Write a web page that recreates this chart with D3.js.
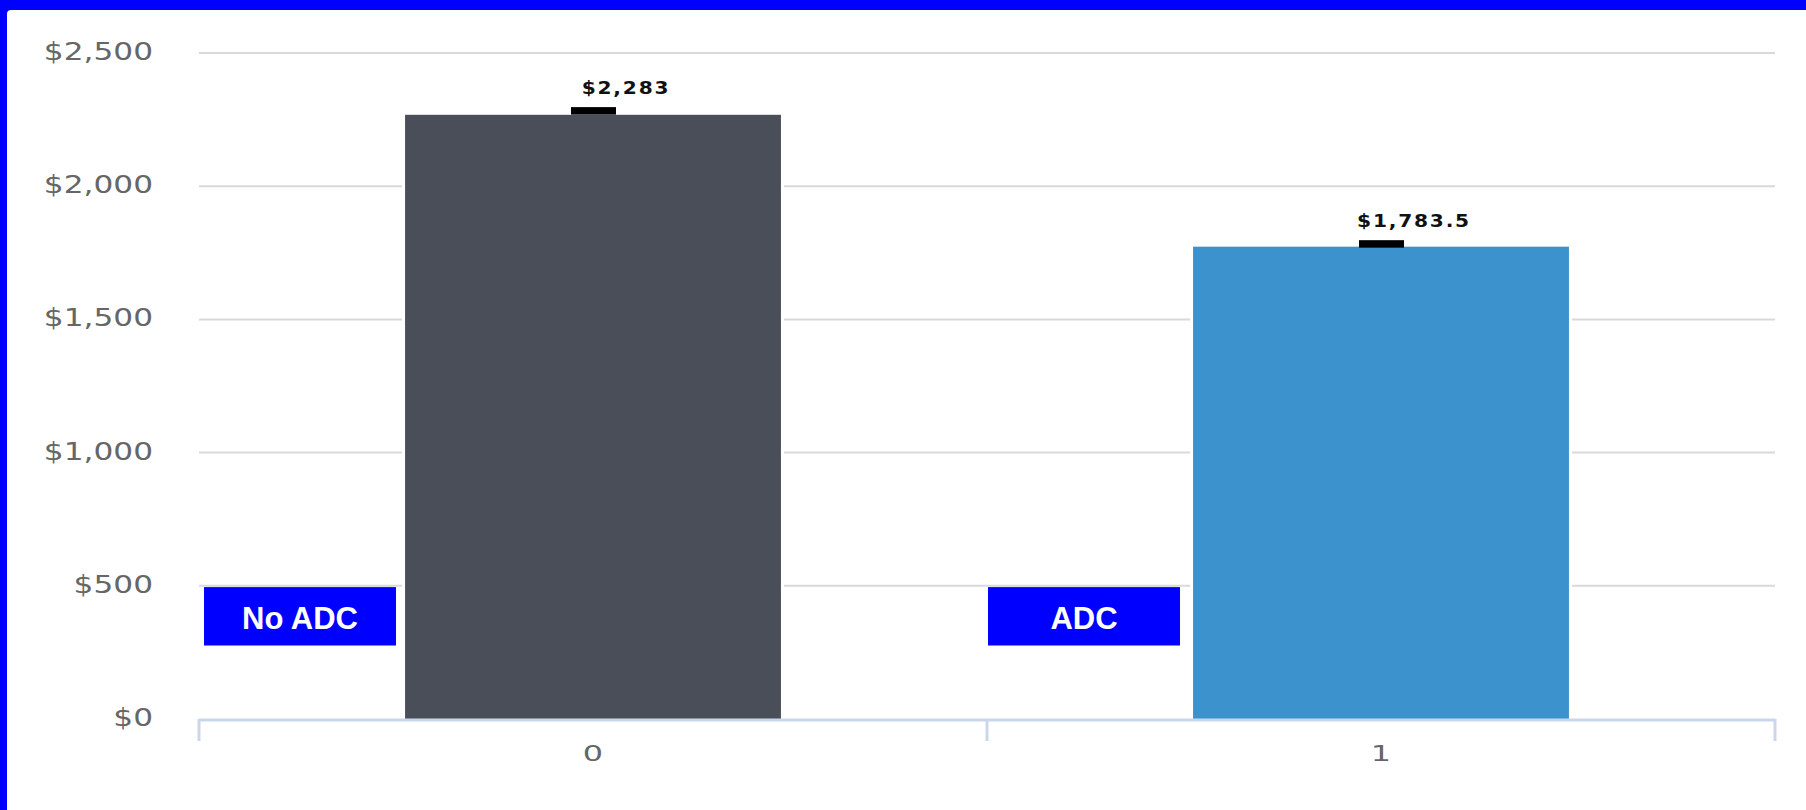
<!DOCTYPE html>
<html>
<head>
<meta charset="utf-8">
<script src="https://cdn.jsdelivr.net/npm/d3@7"></script>
<style>
  html, body { margin: 0; padding: 0; background: #0000ff; }
  svg { display: block; }
</style>
</head>
<body>
<svg id="chart" width="1806" height="810"></svg>
<script>
// ---- data ----
const categories = ["0", "1"];
const groupLabels = ["No ADC", "ADC"];
const barValues = [2268, 1773];          // plotted column heights
const markerValues = [2283, 1783.5];     // black marker / labelled value
const valueLabels = ["$2,283", "$1,783.5"];
const yTicks = [0, 500, 1000, 1500, 2000, 2500];
const yTickLabels = ["$0", "$500", "$1,000", "$1,500", "$2,000", "$2,500"];
const barColors = ["#4a4e59", "#3b92cd"];

// ---- layout ----
const svg = d3.select("#chart");
const W = 1806, H = 810;
const plot = { left: 199, right: 1775, top: 53, bottom: 719 };

// white panel
svg.append("rect").attr("x", 7).attr("y", 10).attr("width", W).attr("height", H)
  .attr("rx", 4).attr("fill", "#ffffff");

const x = d3.scaleBand().domain(categories).range([plot.left, plot.right]).padding(0);
const y = d3.scaleLinear().domain([0, 2500]).range([plot.bottom, plot.top]);

// gridlines
svg.append("g").selectAll("line").data(yTicks.filter(d => d > 0)).join("line")
  .attr("x1", plot.left).attr("x2", plot.right)
  .attr("y1", d => y(d)).attr("y2", d => y(d))
  .attr("stroke", "#d9d9d9").attr("stroke-width", 2);

// y labels
const yLab = svg.append("g");
yTicks.forEach((t, i) => {
  yLab.append("text")
    .attr("transform", `translate(153,${y(t) + 7}) scale(1.3,1)`)
    .attr("text-anchor", "end")
    .attr("font-family", "DejaVu Sans")
    .attr("font-size", 24)
    .attr("fill", "#666666")
    .text(yTickLabels[i]);
});

// bars
const barW = x.bandwidth() * 0.477;
const bars = svg.append("g");
categories.forEach((c, i) => {
  const cx = x(c) + x.bandwidth() / 2;
  // white border halo
  bars.append("rect")
    .attr("x", cx - barW / 2 - 3).attr("width", barW + 6)
    .attr("y", y(barValues[i]) - 1).attr("height", y(0) - y(barValues[i]) + 1)
    .attr("fill", "#ffffff");
  bars.append("rect")
    .attr("x", cx - barW / 2).attr("width", barW)
    .attr("y", y(barValues[i])).attr("height", y(0) - y(barValues[i]))
    .attr("fill", barColors[i]);
});

// markers + value labels
categories.forEach((c, i) => {
  const cx = x(c) + x.bandwidth() / 2;
  const my = y(markerValues[i]);
  svg.append("rect")
    .attr("x", cx - 22).attr("width", 45)
    .attr("y", my - 3.7).attr("height", 7.5)
    .attr("fill", "#000000");
  svg.append("text")
    .attr("transform", `translate(${cx + 33},${my - 17}) scale(1.12,1)`)
    .attr("text-anchor", "middle")
    .attr("font-family", "DejaVu Sans")
    .attr("font-weight", "bold")
    .attr("font-size", 18)
    .attr("letter-spacing", 1.6)
    .attr("fill", "#111111")
    .text(valueLabels[i]);
});

// x axis line + ticks
svg.append("line")
  .attr("x1", plot.left).attr("x2", plot.right)
  .attr("y1", y(0) + 1).attr("y2", y(0) + 1)
  .attr("stroke", "#ccd6eb").attr("stroke-width", 3);
const tickXs = [x(categories[0]), x(categories[1]), x(categories[1]) + x.bandwidth()];
svg.append("g").selectAll("line").data(tickXs).join("line")
  .attr("x1", d => d).attr("x2", d => d)
  .attr("y1", y(0)).attr("y2", y(0) + 22)
  .attr("stroke", "#ccd6eb").attr("stroke-width", 3);

// x labels
categories.forEach(c => {
  svg.append("text")
    .attr("transform", `translate(${x(c) + x.bandwidth() / 2},761) scale(1.45,1)`)
    .attr("text-anchor", "middle")
    .attr("font-family", "DejaVu Sans")
    .attr("font-size", 22)
    .attr("fill", "#666666")
    .text(c);
});

// group annotation boxes
const boxOffsets = [5, 1];
categories.forEach((c, i) => {
  const bx = x(c) + boxOffsets[i];
  const by = y(500) + 1.3;
  svg.append("rect")
    .attr("x", bx).attr("y", by).attr("width", 192).attr("height", 58.4)
    .attr("fill", "#0000ff");
  svg.append("text")
    .attr("x", bx + 96).attr("y", by + 41.5)
    .attr("text-anchor", "middle")
    .attr("font-family", "Liberation Sans, Arial, sans-serif")
    .attr("font-weight", "bold")
    .attr("font-size", 31)
    .attr("fill", "#ffffff")
    .text(groupLabels[i]);
});
</script>
</body>
</html>
